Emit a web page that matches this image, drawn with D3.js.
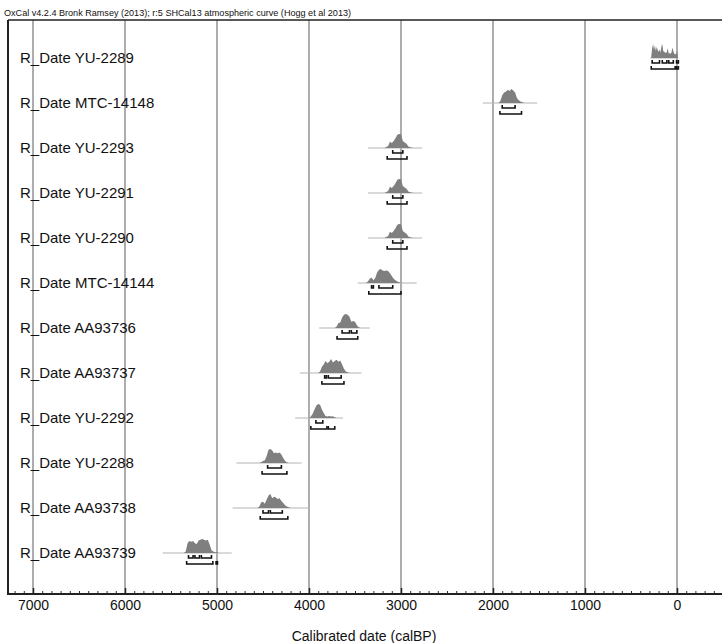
<!DOCTYPE html>
<html><head><meta charset="utf-8">
<script src="https://cdn.jsdelivr.net/npm/d3@7"></script>
<style>body{margin:0;background:#fff}svg{display:block}text{font-family:"Liberation Sans",Arial,sans-serif}</style>
</head><body>
<svg id="c" width="722" height="643"></svg>
<script>
// ---- data ----
const titleText = "OxCal v4.2.4 Bronk Ramsey (2013); r:5 SHCal13 atmospheric curve (Hogg et al 2013)";
const axisTitle = "Calibrated date (calBP)";
const labels = ["R_Date YU-2289","R_Date MTC-14148","R_Date YU-2293","R_Date YU-2291","R_Date YU-2290","R_Date MTC-14144","R_Date AA93736","R_Date AA93737","R_Date YU-2292","R_Date YU-2288","R_Date AA93738","R_Date AA93739"];
const majorTicks = [7000,6000,5000,4000,3000,2000,1000,0];
// start date (calBP) and step of each probability curve
const curveStart = [280,1940,3180,3180,3180,3380,3720,3900,4000,4540,4560,5360];
const curveStep  = [10,20,20,20,20,20,20,20,20,20,20,20];
const probYU2289 = [0.1,0.7,1.0,0.6,0.9,0.5,0.8,0.55,0.45,0.6,0.4,0.8,1.0,0.5,0.45,0.4,0.35,0.45,0.7,0.3,0.35,0.3,0.4,0.75,0.5,0.3,0.25,0.3,0.5,0.1];
const probMTC14148 = [0,0.15,0.55,0.75,0.8,0.95,0.85,1.0,0.9,0.75,0.35,0.2,0.1,0.05,0];
const probYU2293 = [0,0.08,0.15,0.45,0.35,0.5,0.7,0.95,1.0,0.98,0.5,0.4,0.3,0.1,0.05,0.02,0];
const probYU2291 = [0,0.08,0.15,0.45,0.35,0.5,0.7,0.95,1.0,0.98,0.5,0.4,0.3,0.1,0.05,0.02,0];
const probYU2290 = [0,0.08,0.15,0.45,0.35,0.5,0.7,0.95,1.0,0.98,0.5,0.4,0.3,0.1,0.05,0.02,0];
const probMTC14144 = [0,0.1,0.3,0.4,0.2,0.35,0.75,0.95,1.0,0.9,0.85,0.9,0.85,0.7,0.5,0.3,0.2,0.1,0.05,0.02,0];
const probAA93736 = [0,0.1,0.35,0.4,0.75,0.95,1.0,0.95,0.8,0.45,0.5,0.45,0.2,0.05,0];
const probAA93737 = [0,0.1,0.45,0.6,0.85,0.7,0.8,1.0,0.75,0.85,0.95,0.8,0.9,0.6,0.3,0.1,0.05,0];
const probYU2292 = [0,0.1,0.3,0.6,0.9,1.0,0.95,0.6,0.35,0.15,0.1,0.15,0.1,0.12,0.05,0];
const probYU2288 = [0,0.05,0.15,0.2,0.5,0.95,1.0,0.9,0.7,0.75,0.7,0.75,0.6,0.35,0.15,0.05,0];
const probAA93738 = [0,0.1,0.4,0.45,0.3,0.6,0.9,1.0,0.7,0.8,0.75,0.65,0.7,0.5,0.35,0.2,0.1,0.05,0];
const probAA93739 = [0,0.1,0.7,0.85,0.8,0.85,0.7,0.65,0.9,0.95,1.0,0.95,0.9,0.95,0.6,0.2,0.1,0.05,0.08,0];
const probs = [probYU2289,probMTC14148,probYU2293,probYU2291,probYU2290,probMTC14144,probAA93736,probAA93737,probYU2292,probYU2288,probAA93738,probAA93739];
// full extent of the likelihood (thin line)
const lineRange = [[290,-15],[2110,1520],[3360,2770],[3360,2770],[3360,2770],[3470,2830],[3890,3340],[4100,3430],[4150,3630],[4790,4080],[4830,3990],[5590,4840]];
// 68.2% ranges
const range68 = [
  [[270,190],[160,110],[90,40],[5,-15]],
  [[1900,1760]],
  [[3090,2980]],[[3090,2980]],[[3090,2980]],
  [[3320,3300],[3240,3090]],
  [[3640,3560],[3540,3480]],
  [[3830,3810],[3790,3650]],
  [[3925,3850]],
  [[4450,4300]],
  [[4500,4440],[4420,4290]],
  [[5310,5260],[5240,5190],[5170,5060]]
];
// 95.4% ranges
const range95 = [
  [[280,20],[5,-15]],
  [[1925,1690]],
  [[3150,2935]],[[3150,2935]],[[3150,2935]],
  [[3350,3000]],
  [[3695,3470]],
  [[3860,3620]],
  [[3980,3805],[3790,3720]],
  [[4510,4240]],
  [[4530,4230]],
  [[5330,5045],[5010,4995]]
];

// ---- drawing ----
const svg = d3.select("#c");
const x = d3.scaleLinear().domain([7000,0]).range([33,677]);
const y = d3.scaleBand().domain(labels).range([35.5,575.5]);
const rowY = l => y(l) + y.bandwidth()/2;
const h = d3.scaleLinear().domain([0,1]).range([0,-14]);
const plotTop = 20, plotBottom = 594, plotLeft = 8;

svg.append("text").attr("x",4).attr("y",16).attr("font-size",9.5).attr("fill","#111")
  .attr("textLength",347).attr("lengthAdjust","spacingAndGlyphs").text(titleText);

// grid
svg.append("g").selectAll("line").data(majorTicks).join("line")
  .attr("x1",d=>x(d)).attr("x2",d=>x(d)).attr("y1",plotTop).attr("y2",plotBottom)
  .attr("stroke","#929292").attr("stroke-width",1.5);

// row labels
svg.append("g").selectAll("text").data(labels).join("text")
  .attr("x",20).attr("y",l=>rowY(l)).attr("dy","0.35em").attr("font-size",15).attr("fill","#111").text(d=>d);

labels.forEach((lab,i)=>{
  const cy = rowY(lab);
  const g = svg.append("g").attr("transform",`translate(0,${cy})`);
  g.append("line").attr("x1",x(lineRange[i][0])).attr("x2",x(lineRange[i][1]))
    .attr("y1",0).attr("y2",0).attr("stroke","#b4b4b4").attr("stroke-width",1);
  const pts = probs[i].map((p,k)=>({d:curveStart[i]-k*curveStep[i],p}));
  g.append("path").datum(pts)
    .attr("d",d3.area().x(d=>x(d.d)).y0(0).y1(d=>h(d.p)))
    .attr("fill","#7f7f7f");
  const bracket = (ranges,off)=>{
    ranges.forEach(r=>{
      const x0=x(r[0]), x1=x(r[1]);
      g.append("path").attr("d",`M${x0},${off-3}V${off}H${x1}V${off-3}`)
        .attr("fill","none").attr("stroke","#111").attr("stroke-width",1.6);
    });
  };
  bracket(range68[i],5);
  bracket(range95[i],11);
});

// frame
svg.append("line").attr("x1",plotLeft).attr("x2",722).attr("y1",plotTop).attr("y2",plotTop).attr("stroke","#222").attr("stroke-width",1.5);
svg.append("line").attr("x1",plotLeft).attr("x2",plotLeft).attr("y1",plotTop).attr("y2",plotBottom).attr("stroke","#222").attr("stroke-width",2);

// axis
const xa = d3.scaleLinear().domain([7000+25/0.092,-500]).range([8,723]);
const minorTicks = d3.range(7200,-501,-100);
const minor = svg.append("g").attr("transform",`translate(0,${plotBottom})`)
  .call(d3.axisBottom(xa).tickValues(minorTicks).tickSize(-3).tickFormat(""));
minor.select(".domain").remove();
minor.selectAll("line").attr("stroke","#333");
const major = svg.append("g").attr("transform",`translate(0,${plotBottom})`)
  .call(d3.axisBottom(xa).tickValues(majorTicks).tickSize(-6).tickPadding(6).tickFormat(d3.format("d")));
major.select(".domain").remove();
major.selectAll("line").attr("stroke","#222").attr("stroke-width",1.5);
major.selectAll("text").attr("font-size",14).attr("fill","#111").attr("font-family","'Liberation Sans',Arial,sans-serif");
svg.append("line").attr("x1",plotLeft-1).attr("x2",722).attr("y1",plotBottom).attr("y2",plotBottom).attr("stroke","#222").attr("stroke-width",2);

svg.append("text").attr("x",364).attr("y",636).attr("dy","0.35em").attr("text-anchor","middle")
  .attr("font-size",14).attr("fill","#111").text(axisTitle);
</script>
</body></html>
